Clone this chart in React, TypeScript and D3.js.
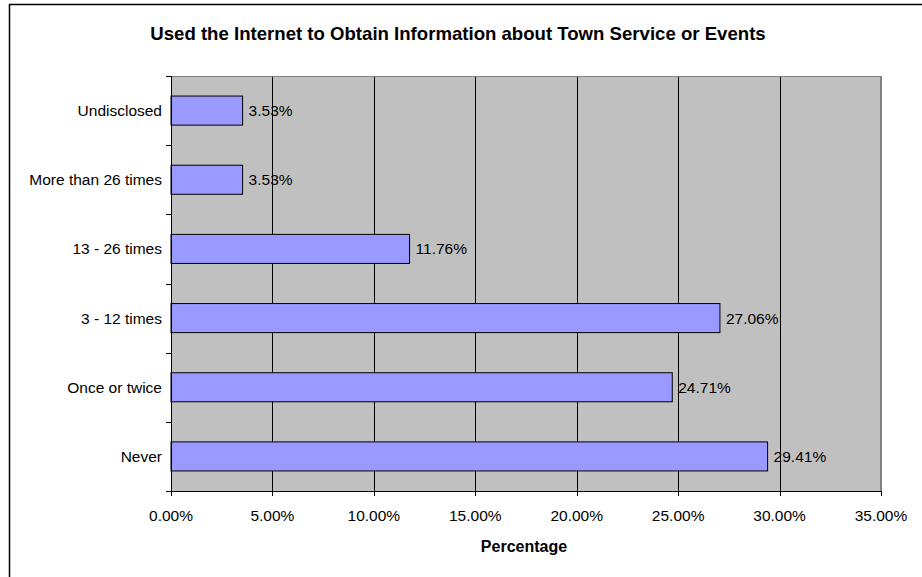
import React from "react";
import * as d3 from "d3";

const categories = ["Undisclosed", "More than 26 times", "13 - 26 times", "3 - 12 times", "Once or twice", "Never"];
const values = [3.53, 3.53, 11.76, 27.06, 24.71, 29.41];
const xTicks = [0, 5, 10, 15, 20, 25, 30, 35];
const title = "Used the Internet to Obtain Information about Town Service or Events";
const xAxisTitle = "Percentage";

export default function App() {
  const W = 922, H = 577;
  const left = 171, right = 881, top = 76, bottom = 491;
  const x = d3.scaleLinear().domain([0, 35]).range([left, right]);
  const y = d3.scaleBand<string>().domain(categories).range([top, bottom]).paddingInner(0.58).paddingOuter(0.29);
  const step = y.step();
  const font = "'Liberation Sans', Arial, sans-serif";
  const fs = 15.5;
  return (
    <svg width={W} height={H} style={{ position: "absolute", left: 0, top: 0 }} fontFamily={font}>
      <rect x={0} y={0} width={W} height={H} fill="#fff" />
      <rect x={9.5} y={4.5} width={W + 10} height={H + 10} fill="none" stroke="#000" strokeWidth={1.5} />
      <text x={458} y={39.5} textAnchor="middle" fontSize={18.6} fontWeight="bold" fill="#000">{title}</text>
      <rect x={left} y={top} width={right - left} height={bottom - top} fill="#C0C0C0" />
      {xTicks.slice(1, -1).map((t) => (
        <line key={t} x1={Math.round(x(t)) + 0.5} x2={Math.round(x(t)) + 0.5} y1={top} y2={bottom} stroke="#000" strokeWidth={1} />
      ))}
      <line x1={left} x2={right} y1={top + 0.5} y2={top + 0.5} stroke="#808080" strokeWidth={1} />
      <line x1={right} x2={right} y1={top} y2={bottom} stroke="#808080" strokeWidth={2} />
      {categories.map((c, i) => (
        <g key={c}>
          <rect x={x(0)} y={y(c)!} width={x(values[i]) - x(0)} height={y.bandwidth()} fill="#9999FF" stroke="#000" strokeWidth={1} />
          <text x={x(values[i]) + 6} y={y(c)! + y.bandwidth() / 2 + 5.5} fontSize={fs} fill="#000">{values[i].toFixed(2)}%</text>
          <text x={162} y={y(c)! + y.bandwidth() / 2 + 5.5} fontSize={fs} textAnchor="end" fill="#000">{c}</text>
        </g>
      ))}
      {d3.range(categories.length + 1).map((k) => (
        <line key={k} x1={left - 5} x2={left} y1={Math.round(top + k * step) + 0.5} y2={Math.round(top + k * step) + 0.5} stroke="#000" strokeWidth={1} />
      ))}
      <line x1={left + 0.5} x2={left + 0.5} y1={top} y2={bottom} stroke="#000" strokeWidth={1} />
      <line x1={left} x2={right + 1} y1={bottom + 0.5} y2={bottom + 0.5} stroke="#000" strokeWidth={1} />
      {xTicks.map((t) => (
        <g key={t}>
          <line x1={Math.round(x(t)) + 0.5} x2={Math.round(x(t)) + 0.5} y1={bottom} y2={bottom + 5} stroke="#000" strokeWidth={1} />
          <text x={x(t)} y={521} textAnchor="middle" fontSize={fs} fill="#000">{t.toFixed(2)}%</text>
        </g>
      ))}
      <text x={524} y={552} textAnchor="middle" fontSize={16} fontWeight="bold" fill="#000">{xAxisTitle}</text>
    </svg>
  );
}
